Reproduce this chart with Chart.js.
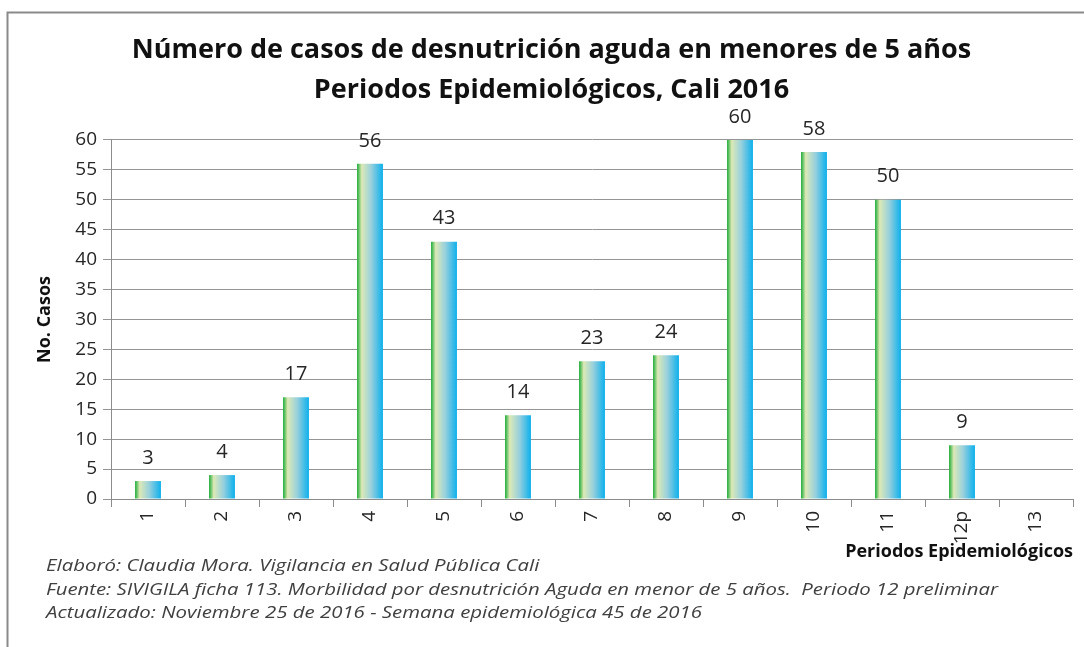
<!DOCTYPE html>
<html>
<head>
<meta charset="utf-8">
<script src="https://cdn.jsdelivr.net/npm/chart.js@4.4.0/dist/chart.umd.min.js"></script>
<style>
  html, body { margin: 0; padding: 0; background: #fff; }
</style>
</head>
<body>
<canvas id="casosChart" width="1084" height="647"></canvas>
<script>
// Data
const periods = ['1', '2', '3', '4', '5', '6', '7', '8', '9', '10', '11', '12p', '13'];
const cases = [3, 4, 17, 56, 43, 14, 23, 24, 60, 58, 50, 9, null];

const titleLines = [
    'Número de casos de desnutrición aguda en menores de 5 años',
    'Periodos Epidemiológicos, Cali 2016'
];
const yTitle = 'No. Casos';
const xTitle = 'Periodos Epidemiológicos';
const footerLines = [
    'Elaboró: Claudia Mora. Vigilancia en Salud Pública Cali',
    'Fuente: SIVIGILA ficha 113. Morbilidad por desnutrición Aguda en menor de 5 años.  Periodo 12 preliminar',
    'Actualizado: Noviembre 25 de 2016 - Semana epidemiológica 45 de 2016'
];

const BAR_PCT = 0.35;
const FONT = "'Open Sans', sans-serif";

// horizontal green -> light -> blue gradient for each bar
function barGradient(context) {
    const chart = context.chart;
    const xs = chart.scales.x;
    if (!chart.chartArea || !xs || context.dataIndex === undefined) return '#5cc3dc';
    const cx = xs.getPixelForValue(context.dataIndex);
    const w = (xs.width / periods.length) * BAR_PCT;
    const g = chart.ctx.createLinearGradient(cx - w / 2, 0, cx + w / 2, 0);
    g.addColorStop(0, '#1aab36');
    g.addColorStop(0.18, '#dde9b6');
    g.addColorStop(0.55, '#97d0dd');
    g.addColorStop(1, '#0db0ec');
    return g;
}

// frame around the figure (top and left edges are visible)
const framePlugin = {
    id: 'frame',
    beforeDraw(chart) {
        const ctx = chart.ctx;
        ctx.save();
        ctx.strokeStyle = '#8a8a8a';
        ctx.lineWidth = 2;
        ctx.beginPath();
        ctx.moveTo(7.5, 647);
        ctx.lineTo(7.5, 12.5);
        ctx.lineTo(1084, 12.5);
        ctx.stroke();
        ctx.restore();
    }
};

// value labels above the bars
const valueLabels = {
    id: 'valueLabels',
    afterDatasetsDraw(chart) {
        const ctx = chart.ctx;
        const meta = chart.getDatasetMeta(0);
        ctx.save();
        ctx.font = '20px ' + FONT;
        ctx.fillStyle = '#262626';
        ctx.textAlign = 'center';
        ctx.textBaseline = 'middle';
        meta.data.forEach((bar, i) => {
            if (cases[i] === null) return;
            ctx.fillText(String(cases[i]), bar.x, bar.y - 23);
        });
        ctx.restore();
    }
};

// source notes under the chart (the original is stretched sideways)
const footerPlugin = {
    id: 'footer',
    afterDraw(chart) {
        const ctx = chart.ctx;
        ctx.save();
        ctx.translate(46, 0);
        ctx.scale(1.2, 1);
        ctx.font = 'italic 17px ' + FONT;
        ctx.fillStyle = '#404040';
        ctx.textAlign = 'left';
        ctx.textBaseline = 'middle';
        const ys = [566, 590, 613];
        footerLines.forEach((t, i) => ctx.fillText(t, 0, ys[i], 952 / 1.2));
        ctx.restore();
    }
};

const ctx = document.getElementById('casosChart').getContext('2d');
const casosChart = new Chart(ctx, {
    type: 'bar',
    data: {
        labels: periods,
        datasets: [{
            data: cases,
            backgroundColor: barGradient,
            borderWidth: 0,
            barPercentage: BAR_PCT,
            categoryPercentage: 1
        }]
    },
    options: {
        responsive: false,
        animation: false,
        layout: { padding: { left: 30, right: 11, top: 0, bottom: 83 } },
        plugins: {
            legend: { display: false },
            tooltip: { enabled: false },
            title: {
                display: true,
                text: titleLines,
                color: '#111',
                font: { family: FONT, size: 27, weight: 'bold', lineHeight: 1.48 },
                padding: { top: 30, bottom: 30 }
            }
        },
        scales: {
            x: {
                afterFit(scale) { scale.height = 65; },
                grid: {
                    offset: true,
                    drawOnChartArea: false,
                    drawTicks: true,
                    tickLength: 8,
                    color: '#8c8c8c'
                },
                border: { color: '#8c8c8c', width: 1 },
                ticks: {
                    autoSkip: false,
                    minRotation: 90,
                    maxRotation: 90,
                    padding: 4,
                    color: '#262626',
                    font: { family: FONT, size: 19 }
                },
                title: {
                    display: true,
                    text: xTitle,
                    align: 'end',
                    color: '#111',
                    font: { family: FONT, size: 18, weight: 'bold' },
                    padding: { top: 0, bottom: 1 }
                }
            },
            y: {
                min: 0,
                max: 60,
                afterFit(scale) { scale.width = 81; },
                grid: {
                    color: '#959595',
                    tickLength: 8
                },
                border: { color: '#8c8c8c', width: 1 },
                ticks: {
                    stepSize: 5,
                    padding: 6,
                    color: '#262626',
                    font: { family: FONT, size: 19 }
                },
                title: {
                    display: true,
                    text: yTitle,
                    color: '#111',
                    font: { family: FONT, size: 18, weight: 'bold' },
                    padding: { top: 4, bottom: 4 }
                }
            }
        }
    },
    plugins: [framePlugin, valueLabels, footerPlugin]
});
</script>
</body>
</html>
